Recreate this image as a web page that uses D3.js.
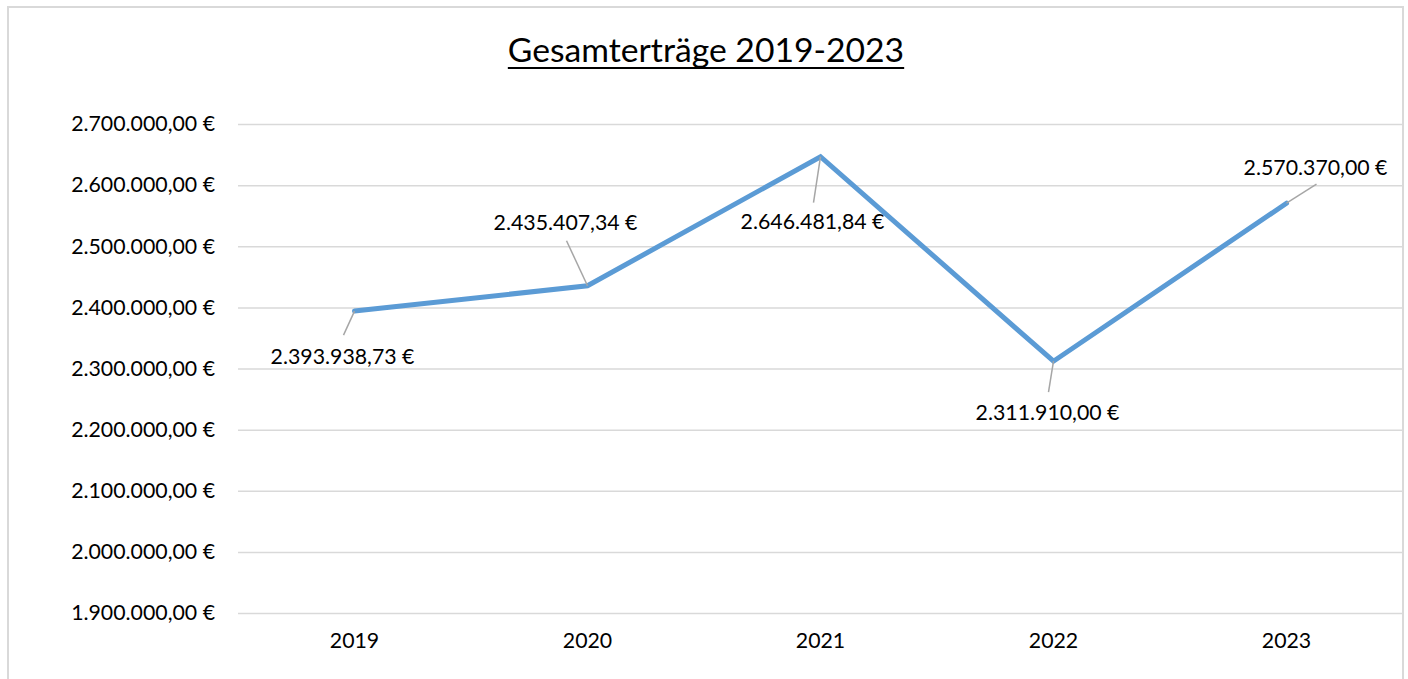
<!DOCTYPE html>
<html>
<head>
<meta charset="utf-8">
<script src="https://cdn.jsdelivr.net/npm/d3@7"></script>
<style>
  body { margin: 0; background: #fff; }
  svg { display: block; font-family: Lato, "Open Sans", sans-serif; }
</style>
</head>
<body>
<div id="chart"></div>
<script>
const years = ["2019", "2020", "2021", "2022", "2023"];
const ertraege = [2393938.73, 2435407.34, 2646481.84, 2311910.00, 2570370.00];
const yTicks = [1900000, 2000000, 2100000, 2200000, 2300000, 2400000, 2500000, 2600000, 2700000];

// label placement relative to the point (label centre, leader line end)
const labelOffsets = [
  { dx: -12, dy: 45, lx: -11, ly: 24 },
  { dx: -22, dy: -63, lx: -21, ly: -45 },
  { dx: -8, dy: 65, lx: -7, ly: 46 },
  { dx: -6, dy: 51, lx: -5, ly: 31 },
  { dx: 29, dy: -36, lx: 30, ly: -19 }
];

const W = 1408, H = 679;
const plot = { left: 238, right: 1403, top: 124, bottom: 613 };
const fs = 21.3;

const de = d3.formatLocale({ decimal: ",", thousands: ".", grouping: [3], currency: ["", " €"] });
const fmt = de.format("$,.2f");

const svg = d3.select("#chart")
  .append("svg")
  .attr("width", W)
  .attr("height", H);

// chart border
svg.append("rect")
  .attr("x", 8).attr("y", 7)
  .attr("width", 1395).attr("height", 720)
  .attr("fill", "none")
  .attr("stroke", "#d9d9d9")
  .attr("stroke-width", 2);

const x = d3.scaleBand()
  .domain(years)
  .range([plot.left, plot.right]);

const y = d3.scaleLinear()
  .domain([1900000, 2700000])
  .range([plot.bottom, plot.top]);

// title
const title = svg.append("text")
  .attr("x", 706).attr("y", 62)
  .attr("text-anchor", "middle")
  .attr("font-size", 33.7)
  .attr("fill", "#000")
  .text("Gesamterträge 2019-2023");
const tb = title.node().getBBox();
svg.append("line")
  .attr("x1", tb.x).attr("x2", tb.x + tb.width)
  .attr("y1", 68).attr("y2", 68)
  .attr("stroke", "#000").attr("stroke-width", 2);

// gridlines + y labels
const yAxis = d3.axisLeft(y)
  .tickValues(yTicks)
  .tickSize(-(plot.right - plot.left))
  .tickPadding(23)
  .tickFormat(fmt);

svg.append("g")
  .attr("transform", `translate(${plot.left},0)`)
  .call(yAxis)
  .call(g => g.select(".domain").remove())
  .call(g => g.selectAll("line").attr("stroke", "#d9d9d9").attr("stroke-width", 1.5))
  .call(g => g.selectAll("text").attr("font-size", fs).attr("fill", "#000").attr("font-family", "Lato, sans-serif"));

// x labels
svg.append("g")
  .attr("transform", `translate(0,${plot.bottom})`)
  .call(d3.axisBottom(x).tickSize(0).tickPadding(20))
  .call(g => g.select(".domain").remove())
  .call(g => g.selectAll("text").attr("font-size", fs).attr("fill", "#000").attr("font-family", "Lato, sans-serif"));

const pts = years.map((yr, i) => ({
  yr, v: ertraege[i],
  px: x(yr) + x.bandwidth() / 2,
  py: y(ertraege[i]),
  o: labelOffsets[i]
}));

// line
svg.append("path")
  .datum(pts)
  .attr("fill", "none")
  .attr("stroke", "#5b9bd5")
  .attr("stroke-width", 5)
  .attr("stroke-linecap", "round")
  .attr("d", d3.line().x(d => d.px).y(d => d.py));

// leader lines
svg.selectAll(".leader")
  .data(pts)
  .enter()
  .append("line")
  .attr("class", "leader")
  .attr("x1", d => d.px).attr("y1", d => d.py)
  .attr("x2", d => d.px + d.o.lx).attr("y2", d => d.py + d.o.ly)
  .attr("stroke", "#a6a6a6")
  .attr("stroke-width", 1.5);

// data labels
svg.selectAll(".lbl")
  .data(pts)
  .enter()
  .append("text")
  .attr("class", "lbl")
  .attr("x", d => d.px + d.o.dx)
  .attr("y", d => d.py + d.o.dy)
  .attr("dy", "0.35em")
  .attr("text-anchor", "middle")
  .attr("font-size", fs)
  .attr("fill", "#000")
  .text(d => fmt(d.v));
</script>
</body>
</html>
